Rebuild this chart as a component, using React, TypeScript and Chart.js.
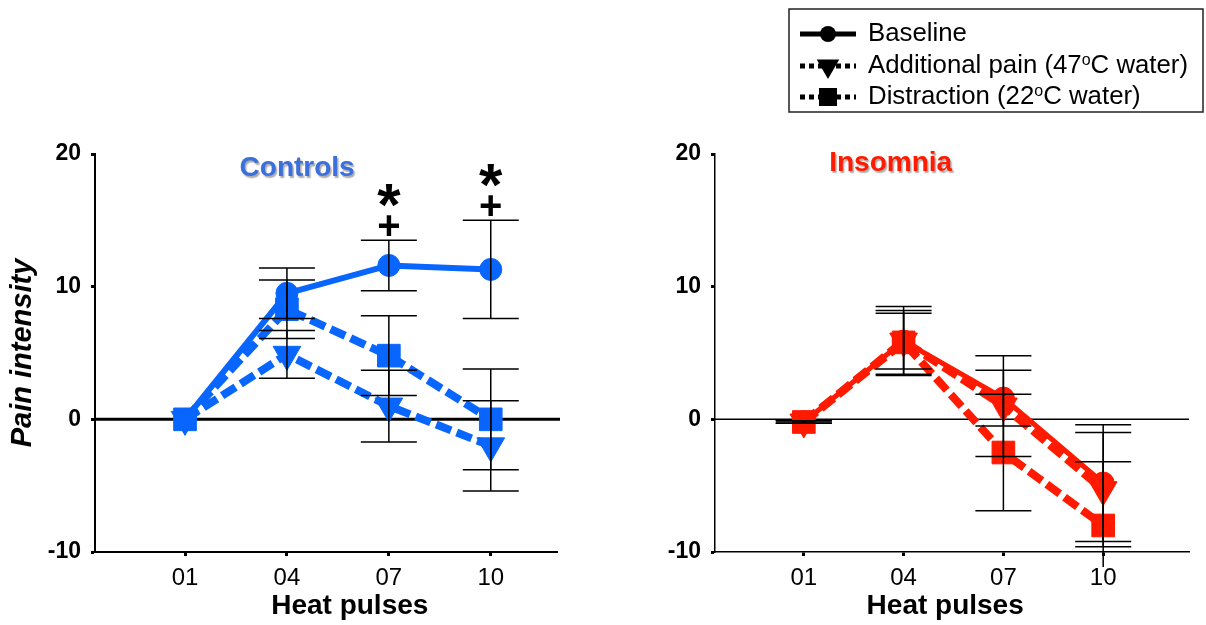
import React, { useEffect, useRef } from "react";
import { Chart, registerables } from "chart.js";

Chart.register(...registerables);

const FONT = "'Liberation Sans', Arial, Helvetica, sans-serif";

// ---- data ----
const pulses = [1, 4, 7, 10];
const pulseLabels = ["01", "04", "07", "10"];
const yTickValues = [-10, 0, 10, 20];

const seriesNames = ["Baseline", "Additional pain (47^oC water)", "Distraction (22^oC water)"];

const controlsBaseline = [0, 9.5, 11.6, 11.3];
const controlsBaselineErr = [0, 1.9, 1.9, 3.7];
const controlsPain = [0, 4.9, 1.0, -2.0];
const controlsPainErr = [0, 1.8, 2.7, 3.4];
const controlsDistraction = [0, 8.3, 4.8, 0.0];
const controlsDistractionErr = [0, 2.2, 3.0, 3.8];

const insomniaBaseline = [-0.2, 5.9, 1.6, -4.8];
const insomniaBaselineErr = [0.1, 2.6, 2.1, 4.4];
const insomniaPain = [-0.2, 5.9, 1.0, -5.3];
const insomniaPainErr = [0.1, 2.1, 3.8, 4.3];
const insomniaDistraction = [-0.2, 5.8, -2.5, -8.0];
const insomniaDistractionErr = [0.1, 2.4, 4.4, 4.8];

// significance marks (Controls panel)
const sigPulses = [7, 10];
const sigPlusY = [14.6, 16.1];
const sigStarY = [16.9, 18.4];

// ---- styles ----
const BLUE = "#0866ff";
const RED = "#ff1a00";

type Panel = {
  title: string;
  titleColor: string;
  titleAt: [number, number];
  color: string;
  series: number[][];
  errors: number[][];
  xMin: number;
  xMax: number;
  yAxisWidth: number;
  padRight: number;
  axisWidth: number;
  zeroWidth: number;
  solidWidth: number;
  showYTitle: boolean;
  xTitleAt: number;
  sig: boolean;
  legend: boolean;
  canvasLeft: number;
  canvasWidth: number;
};

const controlsPanel: Panel = {
  title: "Controls",
  titleColor: "#3a6fdc",
  titleAt: [4.3, 18.9],
  color: BLUE,
  series: [controlsBaseline, controlsPain, controlsDistraction],
  errors: [controlsBaselineErr, controlsPainErr, controlsDistractionErr],
  xMin: -1.65,
  xMax: 11.95,
  yAxisWidth: 95,
  padRight: 43,
  axisWidth: 2,
  zeroWidth: 3,
  solidWidth: 6,
  showYTitle: true,
  xTitleAt: 5.85,
  sig: true,
  legend: false,
  canvasLeft: 0,
  canvasWidth: 600,
};

const insomniaPanel: Panel = {
  title: "Insomnia",
  titleColor: "#ff1a00",
  titleAt: [3.61, 19.3],
  color: RED,
  series: [insomniaBaseline, insomniaPain, insomniaDistraction],
  errors: [insomniaBaselineErr, insomniaPainErr, insomniaDistractionErr],
  xMin: -1.67,
  xMax: 12.58,
  yAxisWidth: 115,
  padRight: 11,
  axisWidth: 1.5,
  zeroWidth: 1.5,
  solidWidth: 5,
  showYTitle: false,
  xTitleAt: 5.25,
  sig: false,
  legend: true,
  canvasLeft: 600,
  canvasWidth: 606,
};

const pointStyles = ["circle", "triangle", "rect"];
const pointRadii = [11, 16, 16];
const pointRotations = [0, 180, 0];

function drawRichText(ctx: CanvasRenderingContext2D, text: string, x: number, y: number, size: number) {
  const parts = text.split("^");
  let cx = x;
  ctx.font = `${size}px ${FONT}`;
  ctx.fillText(parts[0], cx, y);
  cx += ctx.measureText(parts[0]).width;
  for (let k = 1; k < parts.length; k++) {
    const sup = parts[k].charAt(0);
    const rest = parts[k].slice(1);
    ctx.font = `${size * 0.62}px ${FONT}`;
    ctx.fillText(sup, cx, y - size * 0.2);
    cx += ctx.measureText(sup).width;
    ctx.font = `${size}px ${FONT}`;
    ctx.fillText(rest, cx, y);
    cx += ctx.measureText(rest).width;
  }
}

function drawMarker(ctx: CanvasRenderingContext2D, kind: number, x: number, y: number) {
  ctx.beginPath();
  if (kind === 0) {
    ctx.arc(x, y, 8, 0, Math.PI * 2);
  } else if (kind === 1) {
    const r = 13;
    ctx.moveTo(x - r * 0.866, y - r * 0.5);
    ctx.lineTo(x + r * 0.866, y - r * 0.5);
    ctx.lineTo(x, y + r);
    ctx.closePath();
  } else {
    ctx.rect(x - 9, y - 9, 18, 18);
  }
  ctx.fill();
}

function centeredGlyph(ctx: CanvasRenderingContext2D, ch: string, x: number, y: number) {
  ctx.textAlign = "center";
  ctx.textBaseline = "alphabetic";
  const m = ctx.measureText(ch);
  const asc = m.actualBoundingBoxAscent;
  const desc = m.actualBoundingBoxDescent;
  ctx.fillText(ch, x, y + (asc - desc) / 2);
}

function makeDecor(panel: Panel) {
  return {
    id: "decor",
    beforeDatasetsDraw(chart: any) {
      const { ctx, chartArea, scales } = chart;
      const y0 = scales.y.getPixelForValue(0);
      ctx.save();
      ctx.strokeStyle = "#000";
      ctx.lineWidth = panel.zeroWidth;
      ctx.beginPath();
      ctx.moveTo(chartArea.left, y0);
      ctx.lineTo(chartArea.right + (panel.sig ? 3 : 0), y0);
      ctx.stroke();
      ctx.restore();
    },
    afterDatasetsDraw(chart: any) {
      const { ctx, chartArea, scales } = chart;
      const clipBottom = chartArea.bottom + 15;
      const cap = 28;
      ctx.save();
      ctx.strokeStyle = "#000";
      ctx.lineWidth = 1.5;
      panel.series.forEach((vals, si) => {
        const errs = panel.errors[si];
        vals.forEach((v, j) => {
          const e = errs[j];
          if (!e) return;
          const x = scales.x.getPixelForValue(pulses[j]);
          const yHi = scales.y.getPixelForValue(v + e);
          const yLoRaw = scales.y.getPixelForValue(v - e);
          const yLo = Math.min(yLoRaw, clipBottom);
          ctx.beginPath();
          ctx.moveTo(x, yHi);
          ctx.lineTo(x, yLo);
          ctx.moveTo(x - cap, yHi);
          ctx.lineTo(x + cap, yHi);
          if (yLoRaw <= clipBottom) {
            ctx.moveTo(x - cap, yLoRaw);
            ctx.lineTo(x + cap, yLoRaw);
          }
          ctx.stroke();
        });
      });
      ctx.restore();
    },
    afterDraw(chart: any) {
      const { ctx, scales, height } = chart;
      ctx.save();
      // panel title
      ctx.font = `bold 28px ${FONT}`;
      ctx.textAlign = "center";
      ctx.textBaseline = "middle";
      ctx.shadowColor = "rgba(0,0,0,0.35)";
      ctx.shadowOffsetX = 1.5;
      ctx.shadowOffsetY = 1.5;
      ctx.shadowBlur = 1.5;
      ctx.fillStyle = panel.titleColor;
      ctx.fillText(panel.title, scales.x.getPixelForValue(panel.titleAt[0]), scales.y.getPixelForValue(panel.titleAt[1]));
      ctx.shadowColor = "transparent";
      // x-axis title
      ctx.fillStyle = "#000";
      ctx.font = `bold 28px ${FONT}`;
      ctx.fillText("Heat pulses", scales.x.getPixelForValue(panel.xTitleAt), height - 19);
      // significance
      if (panel.sig) {
        sigPulses.forEach((p, k) => {
          const x = scales.x.getPixelForValue(p);
          ctx.font = `bold 40px ${FONT}`;
          centeredGlyph(ctx, "+", x, scales.y.getPixelForValue(sigPlusY[k]));
          ctx.font = `bold 60px ${FONT}`;
          centeredGlyph(ctx, "*", x, scales.y.getPixelForValue(sigStarY[k]));
        });
      }
      // legend box
      if (panel.legend) {
        const bx = 189, by = 9, bw = 414, bh = 103;
        ctx.strokeStyle = "#222";
        ctx.lineWidth = 1.5;
        ctx.strokeRect(bx, by, bw, bh);
        const rows = [34, 66, 97];
        seriesNames.forEach((name, i) => {
          const ry = rows[i];
          ctx.strokeStyle = "#000";
          ctx.fillStyle = "#000";
          ctx.lineWidth = 5;
          ctx.setLineDash(i === 0 ? [] : [5, 4]);
          ctx.beginPath();
          ctx.moveTo(200, ry);
          ctx.lineTo(256, ry);
          ctx.stroke();
          ctx.setLineDash([]);
          drawMarker(ctx, i, 228, ry);
          ctx.textAlign = "left";
          ctx.textBaseline = "middle";
          drawRichText(ctx, name, 268, ry, 25.8);
        });
      }
      ctx.restore();
    },
  };
}

function PanelChart({ panel }: { panel: Panel }) {
  const ref = useRef<HTMLCanvasElement | null>(null);
  useEffect(() => {
    if (!ref.current) return;
    const datasets = panel.series.map((vals, i) => ({
      label: seriesNames[i],
      data: vals.map((v, j) => ({ x: pulses[j], y: v })),
      borderColor: panel.color,
      backgroundColor: panel.color,
      borderWidth: i === 0 ? panel.solidWidth : 8,
      borderDash: i === 0 ? [] : [16, 6],
      pointStyle: pointStyles[i],
      pointRadius: pointRadii[i],
      pointRotation: pointRotations[i],
      pointBackgroundColor: panel.color,
      pointBorderColor: panel.color,
      pointBorderWidth: 1,
      tension: 0,
      clip: false,
      fill: false,
    }));
    const tickGrid = {
      display: true,
      drawOnChartArea: false,
      drawTicks: true,
      tickLength: 4,
      tickWidth: 3,
      color: "#000",
    };
    const chart = new Chart(ref.current, {
      type: "line",
      data: { datasets } as any,
      plugins: [makeDecor(panel)],
      options: {
        responsive: false,
        maintainAspectRatio: false,
        animation: false,
        events: [],
        layout: { padding: { top: 154, right: panel.padRight, left: 0, bottom: 0 } },
        plugins: { legend: { display: false }, tooltip: { enabled: false } },
        scales: {
          x: {
            type: "linear",
            min: panel.xMin,
            max: panel.xMax,
            afterBuildTicks: (s: any) => {
              s.ticks = pulses.map((v) => ({ value: v }));
            },
            afterFit: (s: any) => {
              s.height = 73;
            },
            ticks: {
              autoSkip: false,
              maxRotation: 0,
              padding: 8,
              color: "#000",
              font: { family: FONT, size: 24 },
              callback: (v: any) => {
                const k = pulses.indexOf(Number(v));
                return k >= 0 ? pulseLabels[k] : "";
              },
            },
            grid: tickGrid,
            border: { display: true, color: "#000", width: panel.axisWidth },
          },
          y: {
            type: "linear",
            min: -10,
            max: 20,
            afterBuildTicks: (s: any) => {
              s.ticks = yTickValues.map((v) => ({ value: v }));
            },
            afterFit: (s: any) => {
              s.width = panel.yAxisWidth;
            },
            ticks: {
              padding: 10,
              color: "#000",
              font: { family: FONT, size: 23, weight: "bold" },
              callback: (v: any) => String(v),
            },
            grid: tickGrid,
            border: { display: true, color: "#000", width: panel.axisWidth },
            title: panel.showYTitle
              ? {
                  display: true,
                  text: "Pain intensity",
                  color: "#000",
                  font: { family: FONT, size: 29, weight: "bold", style: "italic" },
                  padding: { top: 6, bottom: 0 },
                }
              : { display: false },
          },
        },
      } as any,
    });
    return () => chart.destroy();
  }, [panel]);
  return (
    <canvas
      ref={ref}
      width={panel.canvasWidth}
      height={625}
      style={{ position: "absolute", left: panel.canvasLeft, top: 0, width: panel.canvasWidth, height: 625 }}
    />
  );
}

export default function App() {
  return (
    <div style={{ position: "absolute", left: 0, top: 0, width: 1206, height: 625, background: "#fff", overflow: "hidden" }}>
      <PanelChart panel={controlsPanel} />
      <PanelChart panel={insomniaPanel} />
    </div>
  );
}
